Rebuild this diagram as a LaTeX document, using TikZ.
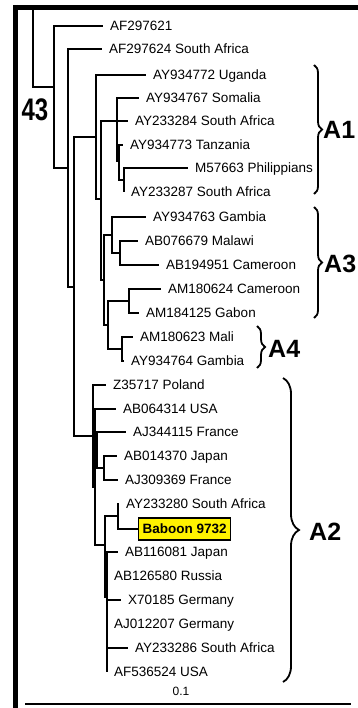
\documentclass[tikz,border=0pt]{standalone}
\usepackage{fontspec}
\setmainfont{Liberation Sans}
\usetikzlibrary{decorations.pathreplacing}
\begin{document}
\begin{tikzpicture}[x=1pt,y=-1pt,
  br/.style={line width=1.4pt},
  lf/.style={anchor=west, inner xsep=7pt, inner ysep=0pt, text height=9.7pt, text depth=0pt, font=\fontsize{13.5}{16}\selectfont},
  clade/.style={decorate, decoration={brace, amplitude=#1}, line width=1.8pt},
  cl/.style={font=\bfseries\fontsize{25}{30}\selectfont, inner sep=0pt},
  frame/.style={line width=5pt}]
\useasboundingbox (0,0) rectangle (358,708);
% frame
\coordinate (fa) at (13,7.5);
\coordinate (fb) at (358,7.5);
\coordinate (fc) at (15.5,5);
\coordinate (fd) at (15.5,708);
\draw[frame] (fa) -- (fb);
\draw[frame] (fc) -- (fd);
% leaves
\node[lf] (l1) at (103,26) {AF297621};
\node[lf] (l2) at (102,49) {AF297624 South Africa};
\node[lf] (l3) at (146,75) {AY934772 Uganda};
\node[lf] (l4) at (139,98) {AY934767 Somalia};
\node[lf] (l5) at (128,121) {AY233284 South Africa};
\node[lf] (l6) at (123,145) {AY934773 Tanzania};
\node[lf] (l7) at (188,168) {M57663 Philippians};
\node[lf] (l8) at (124,192) {AY233287 South Africa};
\node[lf] (l9) at (146,217) {AY934763 Gambia};
\node[lf] (l10) at (138,241) {AB076679 Malawi};
\node[lf] (l11) at (159,265) {AB194951 Cameroon};
\node[lf] (l12) at (161,289) {AM180624 Cameroon};
\node[lf] (l13) at (139,313) {AM184125 Gabon};
\node[lf] (l14) at (133,337) {AM180623 Mali};
\node[lf] (l15) at (124,361) {AY934764 Gambia};
\node[lf] (l16) at (106,385) {Z35717 Poland};
\node[lf] (l17) at (116,409) {AB064314 USA};
\node[lf] (l18) at (126,432) {AJ344115 France};
\node[lf] (l19) at (117,456) {AB014370 Japan};
\node[lf] (l20) at (118,480) {AJ309369 France};
\node[lf] (l21) at (119,504) {AY233280 South Africa};
\node[anchor=west, draw, line width=1.4pt, fill=yellow, inner xsep=4pt, minimum height=22pt,
  font=\bfseries\fontsize{13.5}{16}\selectfont] (l22) at (138,529) {Baboon 9732};
\node[lf] (l23) at (118,552) {AB116081 Japan};
\node[lf] (l24) at (107,576) {AB126580 Russia};
\node[lf] (l25) at (121,600) {X70185 Germany};
\node[lf] (l26) at (107,624) {AJ012207 Germany};
\node[lf] (l27) at (128,648) {AY233286 South Africa};
\node[lf] (l28) at (107,672) {AF536524 USA};
% internal nodes
\coordinate (top) at (33,10);
\coordinate (n1) at (54,87);
\coordinate (n2) at (68,168);
\coordinate (n3) at (74,287);
\coordinate (n4) at (96,137);
\coordinate (n5) at (101,199);
\coordinate (n6) at (117,121);
\coordinate (n8) at (119,161);
\coordinate (n9) at (124,180);
\coordinate (n7) at (104,280);
\coordinate (n10) at (112,235);
\coordinate (n12) at (120,253);
\coordinate (n11) at (108,325);
\coordinate (n13) at (129,301);
\coordinate (n14) at (122,349);
\coordinate (nA2) at (93,436);
\coordinate (n15) at (95,487);
\coordinate (n16) at (97,450);
\coordinate (n18) at (104,468);
\coordinate (n17) at (105,545);
\coordinate (n19) at (118,516);
\coordinate (n20) at (107,597);
% branches
\draw[br] (top) |- (n1);
\draw[br] (n1) |- (l1.west);
\draw[br] (n1) |- (n2);
\draw[br] (n2) |- (l2.west);
\draw[br] (n2) |- (n3);
\draw[br] (n3) |- (n4);
\draw[br] (n3) |- (nA2);
\draw[br] (n4) |- (l3.west);
\draw[br] (n4) |- (n5);
\draw[br] (n5) |- (n6);
\draw[br] (n5) |- (n7);
\draw[br] (n6) |- (l4.west);
\draw[br] (n6) |- (l5.west);
\draw[br] (n6) |- (n8);
\draw[br] (n8) |- (l6.west);
\draw[br] (n8) |- (n9);
\draw[br] (n9) |- (l7.west);
\draw[br] (n9) |- (l8.west);
\draw[br] (n7) |- (n10);
\draw[br] (n7) |- (n11);
\draw[br] (n10) |- (l9.west);
\draw[br] (n10) |- (n12);
\draw[br] (n12) |- (l10.west);
\draw[br] (n12) |- (l11.west);
\draw[br] (n11) |- (n13);
\draw[br] (n11) |- (n14);
\draw[br] (n13) |- (l12.west);
\draw[br] (n13) |- (l13.west);
\draw[br] (n14) |- (l14.west);
\draw[br] (n14) |- (l15.west);
\draw[br] (nA2) |- (l16.west);
\draw[br] (nA2) |- (n15);
\draw[br] (n15) |- (l17.west);
\draw[br] (n15) |- (n16);
\draw[br] (n15) |- (n17);
\draw[br] (n16) |- (l18.west);
\draw[br] (n16) |- (n18);
\draw[br] (n18) |- (l19.west);
\draw[br] (n18) |- (l20.west);
\draw[br] (n17) |- (n19);
\draw[br] (n17) |- (n20);
\draw[br] (n19) |- (l21.west);
\draw[br] (n19) |- (l22.west);
\draw[br] (n20) |- (l23.west);
\draw[br] (n20) |- (l24.west);
\draw[br] (n20) |- (l25.west);
\draw[br] (n20) |- (l26.west);
\draw[br] (n20) |- (l27.west);
\draw[br] (n20) |- (l28.west);
% bootstrap
\node[font=\bfseries\fontsize{24}{28}\selectfont, yscale=1.3, transform shape, inner sep=0pt] (bs) at (35,110) {43};
% clade braces
\coordinate (a1s) at (314,65);  \coordinate (a1e) at (314,194);
\coordinate (a3s) at (314,207); \coordinate (a3e) at (314,318);
\coordinate (a4s) at (257,326); \coordinate (a4e) at (257,368);
\coordinate (a2s) at (283,378); \coordinate (a2e) at (283,682);
\draw[clade=8pt] (a1s) -- (a1e);
\draw[clade=8pt] (a3s) -- (a3e);
\draw[clade=8pt] (a4s) -- (a4e);
\draw[clade=16pt] (a2s) -- (a2e);
\node[cl, anchor=west] (A1) at (323,130) {A1};
\node[cl, anchor=west] (A3) at (324,264) {A3};
\node[cl, anchor=west] (A4) at (268,349) {A4};
\node[cl, anchor=west] (A2) at (309,532) {A2};
% scale bar
\coordinate (sb1) at (25,704);
\coordinate (sb2) at (351,704);
\draw[line width=1.5pt] (sb1) -- (sb2);
\node[font=\fontsize{12}{14}\selectfont, inner sep=0pt] (sbl) at (181,691) {0.1};
\end{tikzpicture}
\end{document}
